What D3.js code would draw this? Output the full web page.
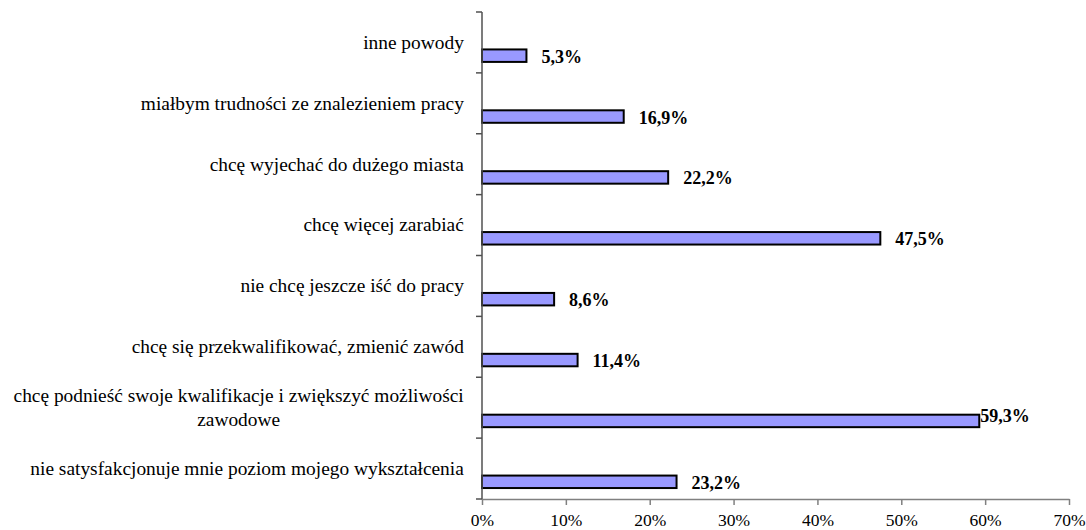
<!DOCTYPE html>
<html>
<head>
<meta charset="utf-8">
<script src="https://cdn.jsdelivr.net/npm/d3@7"></script>
<style>
  body { margin: 0; background: #fff; }
  svg { display: block; }
  svg text { font-family: "Liberation Serif", "Times New Roman", serif; }
</style>
</head>
<body>
<svg width="1086" height="530"></svg>
<script>
const svg = d3.select('svg');

// categories top to bottom, values in %
const categories = [
	'inne powody',
	'miałbym trudności ze znalezieniem pracy',
	'chcę wyjechać do dużego miasta',
	'chcę więcej zarabiać',
	'nie chcę jeszcze iść do pracy',
	'chcę się przekwalifikować, zmienić zawód',
	'chcę podnieść swoje kwalifikacje i zwiększyć możliwości\nzawodowe',
	'nie satysfakcjonuje mnie poziom mojego wykształcenia'
];
const values = [5.3, 16.9, 22.2, 47.5, 8.6, 11.4, 59.3, 23.2];
const tickValues = [0, 10, 20, 30, 40, 50, 60, 70];

const plotLeft = 482, plotRight = 1069, plotTop = 12, plotBottom = 499;

const x = d3.scaleLinear().domain([0, 70]).range([plotLeft, plotRight]);
const y = d3.scaleBand().domain(categories).range([plotTop, plotBottom]);
const bw = y.bandwidth();

// label would not fit after the bar -> Excel puts it tight and a bit higher
const tight = d => x(d) + 100 > plotRight;

// bars
svg.selectAll('rect.bar').data(values)
	.enter().append('rect')
		.attr('class', 'bar')
		.attr('x', x(0))
		.attr('y', (d,i) => y(categories[i]) + bw*0.615)
		.attr('width', d => x(d) - x(0))
		.attr('height', bw*0.205)
		.attr('fill', '#9999ff')
		.attr('stroke', '#000')
		.attr('stroke-width', 2);

// value labels
svg.selectAll('text.val').data(values)
	.enter().append('text')
		.attr('class', 'val')
		.text(d => d.toFixed(1).replace('.', ',') + '%')
		.attr('x', d => tight(d) ? x(d) + 1 : x(d) + 15)
		.attr('y', (d,i) => y(categories[i]) + bw*0.73 + (tight(d) ? -6 : 0))
		.attr('dy', '0.35em')
		.style('font-weight', 'bold')
		.style('font-size', '18px');

// x axis
const xAxis = svg.append('g')
	.attr('transform', `translate(0,${plotBottom})`)
	.call(d3.axisBottom(x).tickValues(tickValues).tickFormat(d => d + '%').tickSize(6).tickSizeOuter(0));
xAxis.select('.domain').attr('stroke', '#808080').attr('stroke-width', 1.5);
xAxis.selectAll('.tick line').attr('stroke', '#808080').attr('stroke-width', 1.5);
xAxis.selectAll('.tick text')
	.style('font-size', '17.5px')
	.attr('fill', '#000')
	.attr('dy', '1.05em');

// y axis: ticks between categories, labels drawn separately
const yAxis = svg.append('g')
	.attr('transform', `translate(${plotLeft},0)`);
yAxis.append('line')
	.attr('x1', 0).attr('x2', 0)
	.attr('y1', plotTop).attr('y2', plotBottom)
	.attr('stroke', '#505050').attr('stroke-width', 1.5);
yAxis.selectAll('line.tk').data(d3.range(categories.length + 1))
	.enter().append('line')
		.attr('class', 'tk')
		.attr('x1', -6).attr('x2', 0)
		.attr('y1', i => plotTop + i*bw).attr('y2', i => plotTop + i*bw)
		.attr('stroke', '#505050').attr('stroke-width', 1.5);

// category labels, multi-line ones centred within their own block
const lineH = 24;
categories.forEach(c => {
	const lines = c.split('\n');
	const t = svg.append('text')
		.style('font-size', '19.4px')
		.attr('fill', '#000');
	lines.forEach((ln, j) => {
		t.append('tspan')
			.attr('x', 0)
			.attr('y', y(c) + bw/2 + (j - (lines.length - 1)/2)*lineH)
			.attr('dy', '0.33em')
			.attr('text-anchor', 'middle')
			.text(ln);
	});
	const w = t.node().getBBox().width;
	t.attr('transform', `translate(${464 - w/2},0)`);
});
</script>
</body>
</html>
